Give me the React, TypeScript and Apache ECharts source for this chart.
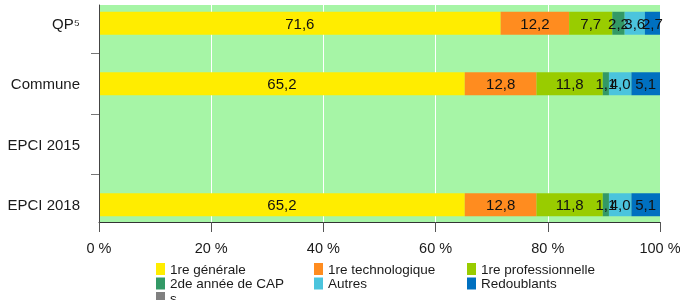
import React, { useEffect, useRef } from "react";
import * as echarts from "echarts";

// Categories, top to bottom as in the picture
const categories = ["QP⁵", "Commune", "EPCI 2015", "EPCI 2018"];

const seriesNames = [
  "1re générale",
  "1re technologique",
  "1re professionnelle",
  "2de année de CAP",
  "Autres",
  "Redoublants",
  "s",
];

const generale = [71.6, 65.2, null, 65.2];
const technologique = [12.2, 12.8, null, 12.8];
const professionnelle = [7.7, 11.8, null, 11.8];
const cap = [2.2, 1.1, null, 1.1];
const autres = [3.6, 4.0, null, 4.0];
const redoublants = [2.7, 5.1, null, 5.1];
const secret = [null, null, null, null];

const xTicks = [0, 20, 40, 60, 80, 100];

const colors = ["#FFED00", "#FF8C1F", "#99CC00", "#339966", "#4BC4DD", "#0070C0", "#808080"];

const legendCols = [
  ["1re générale", "2de année de CAP", "s"],
  ["1re technologique", "Autres"],
  ["1re professionnelle", "Redoublants"],
];

const FONT = "'Liberation Sans', Arial, sans-serif";

export default function App() {
  const ref = useRef<HTMLDivElement>(null);

  useEffect(() => {
    if (!ref.current) return;
    const chart = echarts.init(ref.current, null, { renderer: "svg" });
    const allData = [generale, technologique, professionnelle, cap, autres, redoublants, secret];
    const catsBottomUp = categories.slice().reverse();
    const legendLefts = [156, 314, 467];

    const option: any = {
      animation: false,
      textStyle: { fontFamily: FONT },
      color: colors,
      legend: legendCols.map((col, i) => ({
        data: col,
        orient: "vertical",
        left: legendLefts[i],
        top: 262,
        height: 120,
        padding: 0,
        itemWidth: 9,
        itemHeight: 12,
        itemGap: 0.5,
        icon: "rect",
        selectedMode: false,
        textStyle: { fontSize: 13.5, lineHeight: 14, color: "#1a1a1a", fontFamily: FONT },
      })),
      grid: [
        {
          left: 99,
          top: 5,
          width: 561,
          height: 217,
          show: true,
          backgroundColor: "#A6F5A6",
          borderWidth: 0,
          containLabel: false,
          outerBoundsMode: "none",
        },
        {
          left: 99,
          top: -7,
          width: 561,
          height: 242,
          show: false,
          containLabel: false,
          outerBoundsMode: "none",
        },
      ],
      xAxis: [
        {
          gridIndex: 0,
          type: "value",
          min: xTicks[0],
          max: xTicks[xTicks.length - 1],
          interval: 20,
          axisLine: { show: true, lineStyle: { color: "#333", width: 1 } },
          axisTick: { show: true, length: 10, lineStyle: { color: "#555" } },
          axisLabel: {
            formatter: (v: number) => `${v} %`,
            fontSize: 14.5,
            color: "#1a1a1a",
            margin: 18,
            fontFamily: FONT,
          },
          splitLine: { show: true, lineStyle: { color: "#ffffff", width: 1 } },
        },
        {
          gridIndex: 1,
          type: "value",
          min: 0,
          max: 100,
          show: false,
        },
      ],
      yAxis: [
        {
          gridIndex: 0,
          type: "value",
          min: 0,
          max: 1,
          axisLine: { show: true, lineStyle: { color: "#444", width: 1 } },
          axisTick: { show: false },
          axisLabel: { show: false },
          splitLine: { show: false },
          z: 3,
        },
        {
          gridIndex: 1,
          type: "category",
          data: catsBottomUp,
          axisLine: { show: false },
          axisTick: {
            show: true,
            length: 8,
            interval: (i: number) => i !== 0,
            lineStyle: { color: "#777" },
          },
          axisLabel: {
            interval: 0,
            fontSize: 15,
            color: "#1a1a1a",
            margin: 19,
            fontFamily: FONT,
          },
        },
      ],
      series: seriesNames.map((name, i) => ({
        name,
        type: "bar",
        stack: "total",
        xAxisIndex: 1,
        yAxisIndex: 1,
        barWidth: 23,
        itemStyle: { color: colors[i] },
        label: {
          show: true,
          position: "inside",
          color: "#111",
          fontSize: 15,
          fontFamily: FONT,
          formatter: (p: any) =>
            p.value == null ? "" : Number(p.value).toFixed(1).replace(".", ","),
        },
        data: allData[i].slice().reverse(),
      })),
    };

    chart.setOption(option);
    return () => chart.dispose();
  }, []);

  return (
    <div
      ref={ref}
      style={{ position: "fixed", left: 0, top: 0, width: 680, height: 300 }}
    />
  );
}
